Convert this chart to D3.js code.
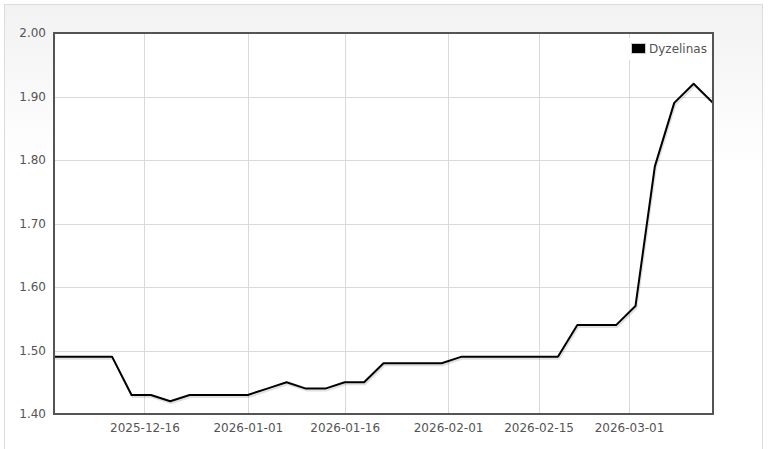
<!DOCTYPE html>
<html>
<head>
<meta charset="utf-8">
<script src="https://cdn.jsdelivr.net/npm/d3@7"></script>
<style>
  body { margin: 0; background: #fff; }
  svg { display: block; font-family: "DejaVu Sans", Verdana, sans-serif; }
</style>
</head>
<body>
<div id="chart"></div>
<script>
// data: one price every 3 days
let dates = [
  `2025-12-02`,`2025-12-05`,`2025-12-08`,`2025-12-11`,`2025-12-14`,`2025-12-17`,`2025-12-20`,
  `2025-12-23`,`2025-12-26`,`2025-12-29`,`2026-01-01`,`2026-01-04`,`2026-01-07`,`2026-01-10`,
  `2026-01-13`,`2026-01-16`,`2026-01-19`,`2026-01-22`,`2026-01-25`,`2026-01-28`,`2026-01-31`,
  `2026-02-03`,`2026-02-06`,`2026-02-09`,`2026-02-12`,`2026-02-15`,`2026-02-18`,`2026-02-21`,
  `2026-02-24`,`2026-02-27`,`2026-03-02`,`2026-03-05`,`2026-03-08`,`2026-03-11`,`2026-03-14`
];
let dyzelinas = [
  1.49,1.49,1.49,1.49,1.43,1.43,1.42,
  1.43,1.43,1.43,1.43,1.44,1.45,1.44,
  1.44,1.45,1.45,1.48,1.48,1.48,1.48,
  1.49,1.49,1.49,1.49,1.49,1.49,1.54,
  1.54,1.54,1.57,1.79,1.89,1.92,1.89
];
let seriesName = `Dyzelinas`;
let xTickLabels = [`2025-12-16`,`2026-01-01`,`2026-01-16`,`2026-02-01`,`2026-02-15`,`2026-03-01`];
let yTickLabels = [1.40,1.50,1.60,1.70,1.80,1.90,2.00];

const W = 769, H = 449;
const margin = {left: 54, right: 56, top: 33, bottom: 35};
let width = W - margin.left - margin.right;
let height = H - margin.top - margin.bottom;

let parse = d3.utcParse(`%Y-%m-%d`);
let data = dates.map((d, i) => ({date: parse(d), value: dyzelinas[i]}));

let svg = d3.select(`#chart`).append(`svg`)
  .attr(`width`, W)
  .attr(`height`, H);

// container background
let defs = svg.append(`defs`);
let grad = defs.append(`linearGradient`).attr(`id`, `bg`)
  .attr(`x1`, 0).attr(`y1`, 0).attr(`x2`, 0).attr(`y2`, 1);
grad.append(`stop`).attr(`offset`, `0%`).attr(`stop-color`, `#f2f2f2`);
grad.append(`stop`).attr(`offset`, `35%`).attr(`stop-color`, `#ffffff`);

svg.append(`rect`)
  .attr(`x`, 4.5).attr(`y`, 4.5)
  .attr(`width`, 758).attr(`height`, 460)
  .attr(`fill`, `url(#bg)`)
  .attr(`stroke`, `#dcdcdc`);

let graph = svg.append(`g`)
  .attr(`transform`, `translate(` + margin.left + `,` + margin.top + `)`);

graph.append(`rect`)
  .attr(`width`, width).attr(`height`, height)
  .attr(`fill`, `#fff`);

let x = d3.scaleUtc()
  .domain(d3.extent(data, d => d.date))
  .range([0, width]);
let y = d3.scaleLinear().domain([1.4, 2.0]).range([height, 0]);

let xTicks = xTickLabels.map(parse);

// grid
graph.append(`g`).attr(`class`, `grid`)
  .selectAll(`line.v`)
  .data(xTicks)
  .enter().append(`line`)
  .attr(`x1`, d => Math.round(x(d)) + 0.5).attr(`x2`, d => Math.round(x(d)) + 0.5)
  .attr(`y1`, 0).attr(`y2`, height)
  .attr(`stroke`, `#d9d9d9`);

graph.append(`g`).attr(`class`, `grid`)
  .selectAll(`line.h`)
  .data(yTickLabels)
  .enter().append(`line`)
  .attr(`x1`, 0).attr(`x2`, width)
  .attr(`y1`, d => Math.round(y(d)) + 0.5).attr(`y2`, d => Math.round(y(d)) + 0.5)
  .attr(`stroke`, `#d9d9d9`);

// axes (labels only)
let yAxis = graph.append(`g`)
  .attr(`class`, `y axis`)
  .call(d3.axisLeft(y).tickValues(yTickLabels).tickFormat(d3.format(`.2f`)).tickSize(0).tickPadding(8));
yAxis.select(`.domain`).remove();
yAxis.selectAll(`text`).attr(`fill`, `#545454`).style(`font-size`, `12px`).style(`font-family`, `"DejaVu Sans", Verdana, sans-serif`);

let xAxis = graph.append(`g`)
  .attr(`class`, `x axis`)
  .attr(`transform`, `translate(0,` + height + `)`)
  .call(d3.axisBottom(x).tickValues(xTicks).tickFormat(d3.utcFormat(`%Y-%m-%d`)).tickSize(0).tickPadding(9));
xAxis.select(`.domain`).remove();
xAxis.selectAll(`text`).attr(`fill`, `#545454`).style(`font-size`, `12px`).style(`font-family`, `"DejaVu Sans", Verdana, sans-serif`);

// line + shadow
let valueline = d3.line()
  .x(d => x(d.date))
  .y(d => y(d.value));

let clip = defs.append(`clipPath`).attr(`id`, `plotclip`);
clip.append(`rect`).attr(`width`, width).attr(`height`, height);

let lines = graph.append(`g`).attr(`clip-path`, `url(#plotclip)`);
lines.append(`path`)
  .datum(data)
  .attr(`fill`, `none`)
  .attr(`stroke`, `rgba(0,0,0,0.12)`)
  .attr(`stroke-width`, 2)
  .attr(`transform`, `translate(1,2)`)
  .attr(`d`, valueline);
lines.append(`path`)
  .datum(data)
  .attr(`fill`, `none`)
  .attr(`stroke`, `#000`)
  .attr(`stroke-width`, 2)
  .attr(`stroke-linejoin`, `round`)
  .attr(`d`, valueline);

// frame
graph.append(`rect`)
  .attr(`width`, width).attr(`height`, height)
  .attr(`fill`, `none`)
  .attr(`stroke`, `#545454`)
  .attr(`stroke-width`, 2);

// legend
let legend = graph.append(`g`).attr(`transform`, `translate(` + (width - 86) + `,5)`);
legend.append(`rect`)
  .attr(`width`, 82).attr(`height`, 22)
  .attr(`fill`, `#fff`).attr(`opacity`, 0.85);
legend.append(`rect`)
  .attr(`x`, 4.5).attr(`y`, 5.5)
  .attr(`width`, 14).attr(`height`, 10)
  .attr(`fill`, `#000`)
  .attr(`stroke`, `#ccc`);
legend.append(`text`)
  .attr(`x`, 22).attr(`y`, 15)
  .attr(`fill`, `#545454`)
  .style(`font-size`, `12px`)
  .text(seriesName);
</script>
</body>
</html>
